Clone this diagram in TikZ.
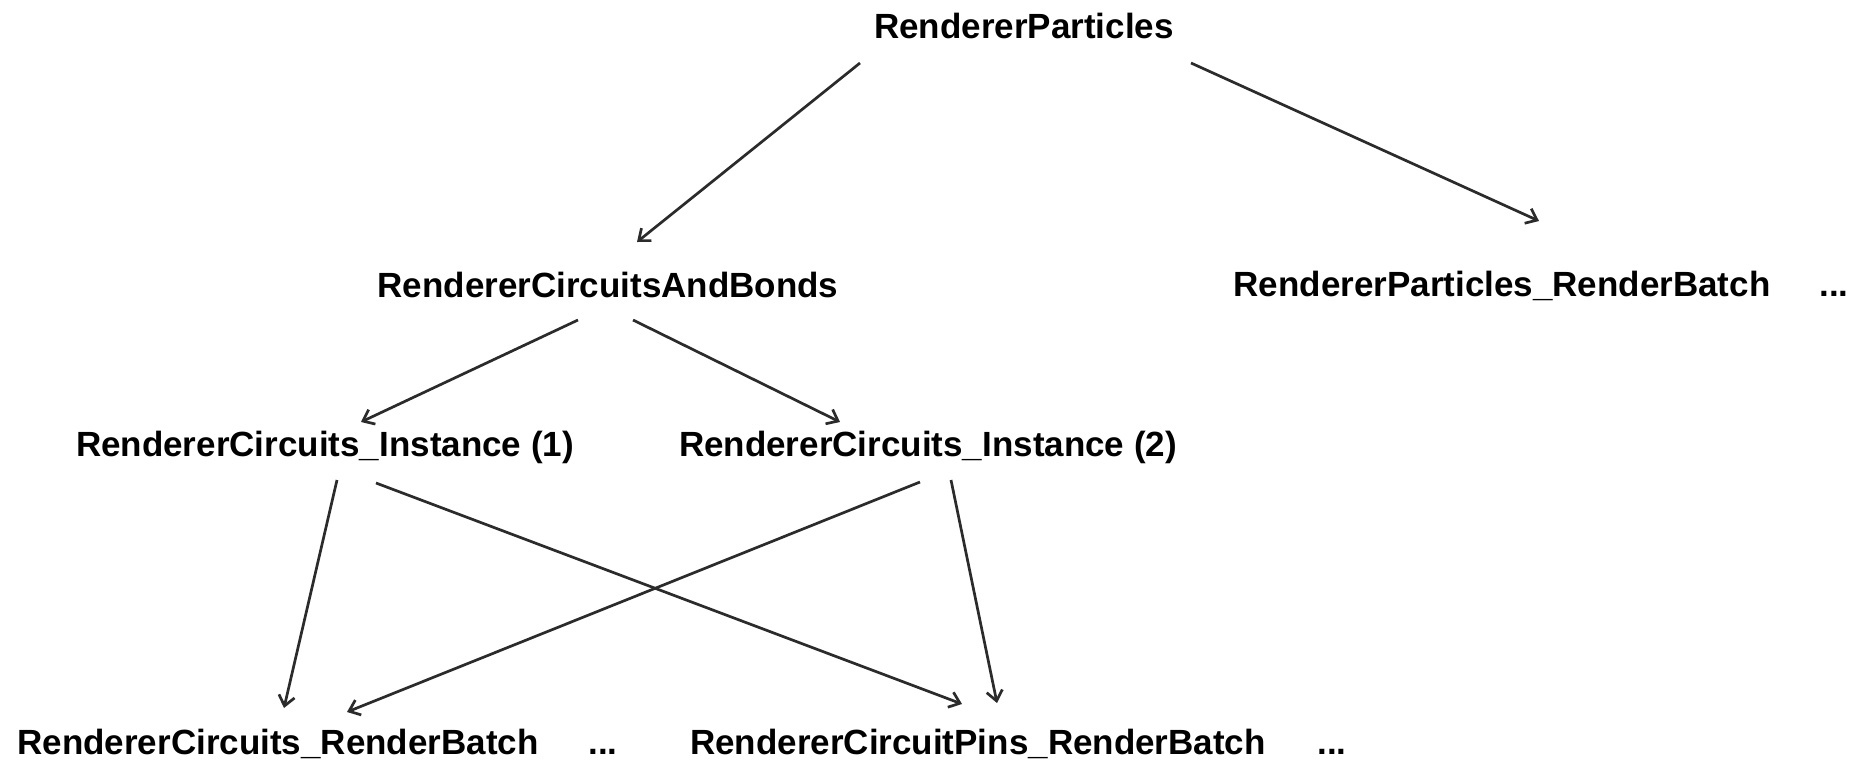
\documentclass[tikz,border=0pt]{standalone}
\usepackage{fontspec}
\setmainfont{Liberation Sans}
\usetikzlibrary{arrows.meta,positioning}
\definecolor{edgegray}{HTML}{2B2B2B}

\begin{document}
\begin{tikzpicture}[x=1pt,y=-1pt,
    lbl/.style={anchor=base,inner sep=0pt,outer sep=0pt,font=\fontsize{35}{40}\selectfont\bfseries},
    arr/.style={edgegray,line width=2.7pt,-{Straight Barb[length=10pt,width=16pt,line width=2.7pt]}}]
    \useasboundingbox (0,0) rectangle (1866,768);

    \node[lbl] (rp)    at (1024,39)  {RendererParticles};
    \node[lbl] (rcab)  at (608,297)  {RendererCircuitsAndBonds};
    \node[lbl] (rprb)  at (1502,296) {RendererParticles\_RenderBatch};
    \node[lbl] (dotsa) at (1834,296) {...};
    \node[lbl] (inst1) at (325,456)  {RendererCircuits\_Instance (1)};
    \node[lbl] (inst2) at (928,456)  {RendererCircuits\_Instance (2)};
    \node[lbl] (rcrb)  at (278,754)  {RendererCircuits\_RenderBatch};
    \node[lbl] (dotsb) at (603,754)  {...};
    \node[lbl] (rcprb) at (978,754)  {RendererCircuitPins\_RenderBatch};
    \node[lbl] (dotsc) at (1332,754) {...};

    \draw[arr] ([xshift=-164pt,yshift=-24pt]rp.base) -- ([xshift=29pt,yshift=55pt]rcab.base);
    \draw[arr] ([xshift=167pt,yshift=-24pt]rp.base) -- ([xshift=37pt,yshift=75pt]rprb.base);
    \draw[arr] ([xshift=-30pt,yshift=-23pt]rcab.base) -- ([xshift=36pt,yshift=34pt]inst1.base);
    \draw[arr] ([xshift=25pt,yshift=-23pt]rcab.base) -- ([xshift=-88pt,yshift=34pt]inst2.base);
    \draw[arr] ([xshift=12pt,yshift=-24pt]inst1.base) -- ([xshift=6pt,yshift=46pt]rcrb.base);
    \draw[arr] ([xshift=51pt,yshift=-27pt]inst1.base) -- ([xshift=-16pt,yshift=50pt]rcprb.base);
    \draw[arr] ([xshift=-8pt,yshift=-26pt]inst2.base) -- ([xshift=69pt,yshift=42pt]rcrb.base);
    \draw[arr] ([xshift=23pt,yshift=-24pt]inst2.base) -- ([xshift=19pt,yshift=51pt]rcprb.base);
\end{tikzpicture}
\end{document}
